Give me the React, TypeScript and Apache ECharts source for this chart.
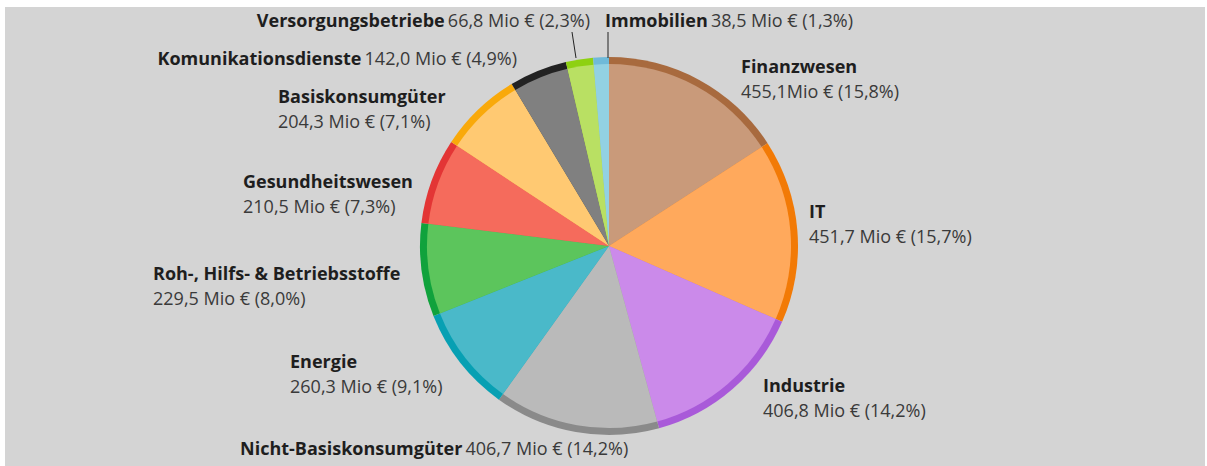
import React, { useEffect, useRef } from "react";
import * as echarts from "echarts";

const categories = [
  "Finanzwesen",
  "IT",
  "Industrie",
  "Nicht-Basiskonsumgüter",
  "Energie",
  "Roh-, Hilfs- & Betriebsstoffe",
  "Gesundheitswesen",
  "Basiskonsumgüter",
  "Komunikationsdienste",
  "Versorgungsbetriebe",
  "Immobilien",
];
const values = [455.1, 451.7, 406.8, 406.7, 260.3, 229.5, 210.5, 204.3, 142.0, 66.8, 38.5];
const unitGap = ["", " ", " ", " ", " ", " ", " ", " ", " ", " ", " "];
const singleLine = [false, false, false, true, false, false, false, false, true, true, true];

const fillColors = [
  "#c99a7a", "#ffa95c", "#cb8aea", "#bababa", "#4ab9c9", "#5cc55c",
  "#f56b5c", "#ffc972", "#808080", "#b9e063", "#92d1e3",
];
const ringColors = [
  "#a86a3e", "#f27a06", "#a95ad9", "#8a8a8a", "#07a0b3", "#10a23c",
  "#e33535", "#f9a90a", "#222222", "#8ed112", "#6fbad9",
];

// label anchor: x, y of label centre, alignment
const labelAnchors: [number, number, string][] = [
  [741, 78, "left"],
  [809, 223, "left"],
  [763, 397, "left"],
  [240, 448, "left"],
  [290, 373, "left"],
  [153, 285, "left"],
  [243, 193, "left"],
  [278, 108, "left"],
  [517, 58, "right"],
  [590, 20, "right"],
  [605, 20, "left"],
];

const total = values.reduce((a, b) => a + b, 0);
const fmt = (v: number, i: number) =>
  v.toFixed(1).replace(".", ",") + unitGap[i] + "Mio € (" + ((v / total) * 100).toFixed(1).replace(".", ",") + "%)";

export default function App() {
  const ref = useRef<HTMLDivElement>(null);
  useEffect(() => {
    document.body.style.margin = "0";
    const chart = echarts.init(ref.current!, null, { renderer: "svg" });
    const fillData = categories.map((c, i) => ({
      name: c,
      value: values[i],
      itemStyle: { color: fillColors[i] },
    }));
    const ringData = categories.map((c, i) => ({
      name: c,
      value: values[i],
      itemStyle: { color: ringColors[i] },
    }));
    const font = "'Open Sans', 'Noto Sans', sans-serif";
    chart.setOption({
      animation: false,
      backgroundColor: "#ffffff",
      graphic: [
        {
          type: "rect",
          z: -10,
          shape: { x: 5, y: 7, width: 1200, height: 459 },
          style: { fill: "#d4d4d4" },
          silent: true,
        },
        {
          type: "line",
          z: 10,
          shape: { x1: 572, y1: 32, x2: 576, y2: 58 },
          style: { stroke: "#222", lineWidth: 1 },
        },
        {
          type: "line",
          z: 10,
          shape: { x1: 608, y1: 32, x2: 608, y2: 58 },
          style: { stroke: "#222", lineWidth: 1 },
        },
      ],
      series: [
        {
          type: "pie",
          center: [609, 246],
          radius: [0, 189],
          startAngle: 90,
          clockwise: true,
          silent: true,
          label: { show: false },
          labelLine: { show: false },
          itemStyle: { borderWidth: 0 },
          data: ringData,
          z: 1,
        },
        {
          type: "pie",
          center: [609, 246],
          radius: [0, 182],
          startAngle: 90,
          clockwise: true,
          avoidLabelOverlap: false,
          itemStyle: { borderWidth: 0 },
          labelLine: { show: false },
          label: {
            show: true,
            position: "outside",
            fontFamily: font,
            formatter: (p: any) => {
              const i = p.dataIndex;
              const v = fmt(values[i], i);
              return singleLine[i] ? `{n|${p.name}} {v|${v}}` : `{n|${p.name}}\n{v|${v}}`;
            },
            rich: {
              n: { fontFamily: font, fontSize: 18, fontWeight: "bold", color: "#1e1e1e", lineHeight: 25 },
              v: { fontFamily: font, fontSize: 18, color: "#3a3a3a", lineHeight: 25 },
            },
          },
          labelLayout: (params: any) => {
            const a = labelAnchors[params.dataIndex];
            return { x: a[0], y: a[1], align: a[2], verticalAlign: "middle" };
          },
          data: fillData,
          z: 2,
        },
      ],
    });
    return () => chart.dispose();
  }, []);
  return <div ref={ref} style={{ width: 1207, height: 466 }} />;
}
